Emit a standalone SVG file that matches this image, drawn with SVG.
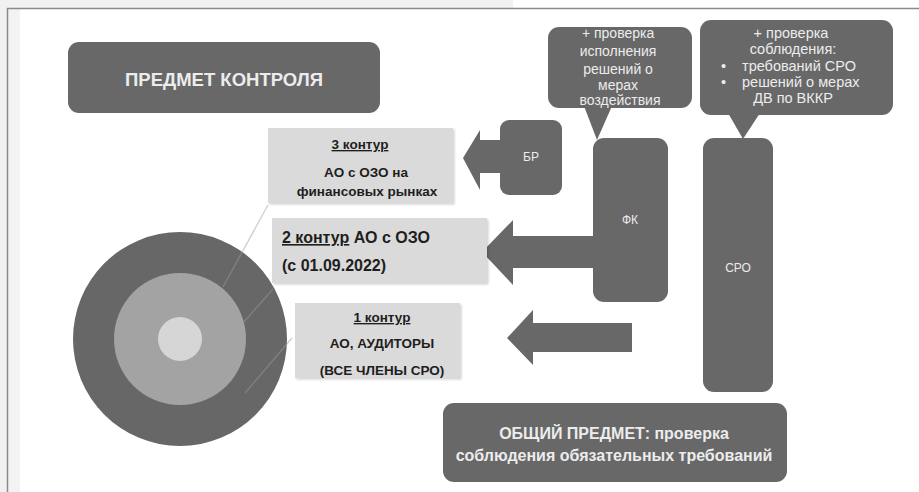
<svg xmlns="http://www.w3.org/2000/svg" width="919" height="492" viewBox="0 0 919 492">
<defs>
<style>
.dark{fill:#686868}
.light{fill:#dadada}
.wt{fill:#ececec;font-family:"Liberation Sans",Arial,sans-serif}
.mid{text-anchor:middle}
.bt{fill:#1e1e1e;font-family:"Liberation Sans",Arial,sans-serif;font-weight:bold}
.arrow{fill:#686868}
.lead{stroke:#9c9c9c;stroke-width:1.3;fill:none;opacity:0.5}
</style>
<filter id="sh" x="-10%" y="-10%" width="125%" height="125%">
<feDropShadow dx="1.5" dy="1.5" stdDeviation="1.2" flood-color="#000" flood-opacity="0.18"/>
</filter>
</defs>
<rect x="0" y="0" width="919" height="492" fill="#ffffff"/>
<rect x="0" y="0" width="513" height="8" fill="#f1f1f1"/>
<rect x="0" y="0" width="7" height="492" fill="#f1f1f1"/>
<rect x="8" y="9" width="12" height="483" fill="#f3f3f3"/>
<line x1="7" y1="8.5" x2="919" y2="8.5" stroke="#8a8a8a" stroke-width="1.5"/>
<line x1="7.5" y1="8" x2="7.5" y2="492" stroke="#8a8a8a" stroke-width="1.5"/>

<g id="title">
<rect class="dark" x="68" y="42" width="312" height="71" rx="11"/>
<text class="wt mid" x="224" y="86" font-size="18.5" font-weight="bold">ПРЕДМЕТ КОНТРОЛЯ</text>
</g>

<g id="circle">
<circle cx="180" cy="339" r="107" fill="#676767"/>
<circle cx="180" cy="339" r="66" fill="#a3a3a3"/>
<circle cx="180" cy="339" r="22" fill="#d6d6d6"/>
</g>

<g id="connectors">
<line class="lead" x1="223" y1="287" x2="268" y2="205"/>
<line class="lead" x1="243" y1="323" x2="273" y2="289"/>
<line class="lead" x1="245" y1="393" x2="292" y2="338"/>
<polygon class="arrow" points="500,140 480,140 480,130 463,158 480,190 480,173 500,173"/>
<polygon class="arrow" points="593,236 513,236 513,220 482,252 513,285 513,268 593,268"/>
<polygon class="arrow" points="632,323 533,323 533,310 507,338 533,365 533,352 632,352"/>
</g>

<g id="contour3">
<rect class="light" x="268" y="128" width="185" height="75" filter="url(#sh)"/>
<text class="bt" x="360" y="149" font-size="13.5" text-anchor="middle" text-decoration="underline">3 контур</text>
<text class="bt" x="366" y="177" font-size="13.5" text-anchor="middle">АО с ОЗО на</text>
<text class="bt" x="367" y="196" font-size="13.5" text-anchor="middle">финансовых рынках</text>
</g>

<g id="contour2">
<rect class="light" x="272" y="218" width="215" height="65" filter="url(#sh)"/>
<text class="bt" x="282" y="243" font-size="16"><tspan text-decoration="underline">2 контур</tspan> АО с ОЗО</text>
<text class="bt" x="282" y="271" font-size="16">(с 01.09.2022)</text>
</g>

<g id="contour1">
<rect class="light" x="295" y="303" width="165" height="75" filter="url(#sh)"/>
<text class="bt" x="382" y="322" font-size="13.5" text-anchor="middle" text-decoration="underline">1 контур</text>
<text class="bt" x="382" y="348" font-size="13.5" text-anchor="middle">АО, АУДИТОРЫ</text>
<text class="bt" x="382" y="375" font-size="13.5" text-anchor="middle">(ВСЕ ЧЛЕНЫ СРО)</text>
</g>

<g id="br">
<rect class="dark" x="500" y="120" width="62" height="75" rx="9"/>
<text class="wt mid" x="531" y="161" font-size="12">БР</text>
</g>

<g id="fk">
<rect class="dark" x="593" y="138" width="75" height="164" rx="11"/>
<text class="wt mid" x="630" y="224" font-size="12">ФК</text>
</g>

<g id="sro">
<rect class="dark" x="703" y="138" width="70" height="254" rx="11"/>
<text class="wt mid" x="738" y="272" font-size="12">СРО</text>
</g>

<g id="callout-fk">
<rect class="dark" x="548" y="27" width="144" height="81" rx="11"/>
<polygon class="dark" points="584,106 612,106 597,140"/>
<text class="wt mid" font-size="14">
<tspan x="620" y="38">+ проверка</tspan>
<tspan x="620" y="56">исполнения</tspan>
<tspan x="620" y="74">решений о</tspan>
<tspan x="620" y="90">мерах</tspan>
<tspan x="620" y="105">воздействия</tspan>
</text>
</g>

<g id="callout-sro">
<rect class="dark" x="700" y="20" width="193" height="95" rx="11"/>
<polygon class="dark" points="728,113 760,113 743,139"/>
<text class="wt mid" font-size="14.5">
<tspan x="793" y="38">+ проверка</tspan>
<tspan x="793" y="54">соблюдения:</tspan>
</text>
<text class="wt" font-size="14.5">
<tspan x="721" y="71">•</tspan>
<tspan x="721" y="87">•</tspan>
<tspan x="742" y="71">требований СРО</tspan>
<tspan x="742" y="87">решений о мерах</tspan>
</text>
<text class="wt mid" font-size="14.5" x="793" y="103">ДВ по ВККР</text>
</g>

<g id="common">
<rect class="dark" x="443" y="403" width="344" height="79" rx="11"/>
<text class="wt mid" x="614" y="439" font-size="16" font-weight="bold">ОБЩИЙ ПРЕДМЕТ: проверка</text>
<text class="wt mid" x="614" y="461" font-size="16" font-weight="bold">соблюдения обязательных требований</text>
</g>
</svg>
